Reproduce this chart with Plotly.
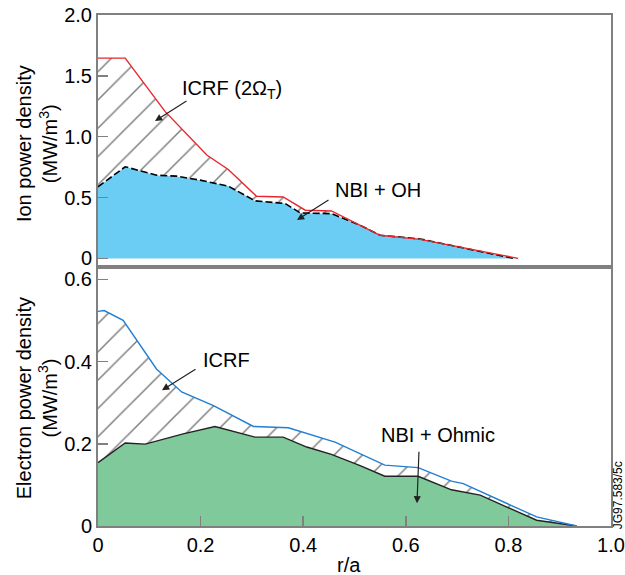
import plotly.graph_objects as go

# ---- Ion power density (top panel) ----
ion_icrf_x = [0.0, 0.053, 0.131, 0.176, 0.212, 0.254, 0.309, 0.361, 0.404, 0.455, 0.511, 0.550, 0.628, 0.819]
ion_icrf_y = [1.646, 1.646, 1.206, 1.006, 0.849, 0.731, 0.511, 0.505, 0.396, 0.390, 0.272, 0.190, 0.156, 0.0]
ion_nbi_x = [0.0, 0.053, 0.114, 0.153, 0.199, 0.254, 0.306, 0.365, 0.394, 0.455, 0.511, 0.550, 0.628, 0.810]
ion_nbi_y = [0.588, 0.753, 0.684, 0.676, 0.643, 0.594, 0.473, 0.451, 0.374, 0.368, 0.272, 0.190, 0.160, 0.0]

# ---- Electron power density (bottom panel) ----
el_icrf_x = [0.0, 0.012, 0.049, 0.101, 0.114, 0.163, 0.225, 0.303, 0.371, 0.462, 0.511, 0.559, 0.624, 0.689, 0.712, 0.855, 0.933]
el_icrf_y = [0.522, 0.524, 0.500, 0.403, 0.382, 0.326, 0.293, 0.242, 0.239, 0.204, 0.176, 0.148, 0.142, 0.109, 0.103, 0.022, 0.0]
el_nbi_x = [0.0, 0.053, 0.092, 0.166, 0.228, 0.306, 0.361, 0.407, 0.455, 0.511, 0.559, 0.624, 0.689, 0.745, 0.855, 0.933]
el_nbi_y = [0.154, 0.202, 0.199, 0.224, 0.242, 0.216, 0.216, 0.192, 0.174, 0.147, 0.121, 0.121, 0.088, 0.075, 0.014, 0.0]

x_ticks = [0, 0.2, 0.4, 0.6, 0.8, 1.0]
x_ticklabels = ["0", "0.2", "0.4", "0.6", "0.8", "1.0"]
ion_ticks = [0, 0.5, 1.0, 1.5, 2.0]
ion_ticklabels = ["0", "0.5", "1.0", "1.5", "2.0"]
el_ticks = [0, 0.2, 0.4, 0.6]
el_ticklabels = ["0", "0.2", "0.4", "0.6"]

FONT = "Liberation Sans, Arial, sans-serif"
AX = "#808080"
hatch = dict(shape="/", fgcolor="#000000", bgcolor="white", size=20, solidity=0.075)

fig = go.Figure()

# top panel
fig.add_trace(go.Scatter(x=ion_nbi_x, y=ion_nbi_y, mode="lines", fill="tozeroy",
                         fillcolor="#6CCDF4", line=dict(color="black", width=1.6, dash="7px,3px"),
                         xaxis="x2", yaxis="y2", showlegend=False, hoverinfo="skip"))
fig.add_trace(go.Scatter(x=ion_icrf_x, y=ion_icrf_y, mode="lines", fill="tonexty",
                         fillpattern=hatch, fillcolor="white",
                         line=dict(color="#E8262C", width=1.4),
                         xaxis="x2", yaxis="y2", showlegend=False, hoverinfo="skip"))

# bottom panel
fig.add_trace(go.Scatter(x=el_nbi_x, y=el_nbi_y, mode="lines", fill="tozeroy",
                         fillcolor="#80C99B", line=dict(color="#222222", width=1.4),
                         xaxis="x", yaxis="y", showlegend=False, hoverinfo="skip"))
fig.add_trace(go.Scatter(x=el_icrf_x, y=el_icrf_y, mode="lines", fill="tonexty",
                         fillpattern=hatch, fillcolor="white",
                         line=dict(color="#1F7FD3", width=1.4),
                         xaxis="x", yaxis="y", showlegend=False, hoverinfo="skip"))

split = 0.507
tickfont = dict(family=FONT, size=20, color="black")
common = dict(showgrid=False, zeroline=False, automargin=False,
              showline=True, linecolor=AX, linewidth=2, mirror=True)

fig.update_layout(
    width=625, height=575,
    margin=dict(l=98, r=14, t=15, b=49),
    paper_bgcolor="white", plot_bgcolor="white",
    font=dict(family=FONT, size=20, color="black"),
    xaxis=dict(domain=[0, 1], range=[0, 1], tickvals=x_ticks, ticktext=x_ticklabels,
               ticks="inside", ticklen=10, tickcolor=AX, tickwidth=1.5,
               tickfont=tickfont, anchor="y", **common),
    yaxis=dict(domain=[0, split], range=[0, 0.63], tickvals=el_ticks, ticktext=el_ticklabels,
               ticks="inside", ticklen=10, tickcolor=AX, tickwidth=1.5,
               tickfont=tickfont, anchor="x", **common),
    xaxis2=dict(domain=[0, 1], range=[0, 1], showticklabels=False, ticks="",
                anchor="y2", **common),
    yaxis2=dict(domain=[split, 1], range=[-0.07, 2.0], tickvals=ion_ticks, ticktext=ion_ticklabels,
                ticks="inside", ticklen=10, tickcolor=AX, tickwidth=1.5,
                tickfont=tickfont, anchor="x2", **common),
)

ann_font = dict(family=FONT, size=20, color="black")
arrow = dict(showarrow=True, arrowhead=2, arrowsize=1.2, arrowwidth=1.2, arrowcolor="#222222")

def px_x(p):
    return (p - 98) / 513.0

def px_y(p):
    return (525.7 - p) / 510.7

annots = [
    dict(text="ICRF (2Ω<sub>T</sub>)", x=px_x(180), y=px_y(89), xanchor="left", yanchor="middle"),
    dict(text="NBI + OH", x=px_x(378), y=px_y(190), xanchor="center", yanchor="middle"),
    dict(text="ICRF", x=px_x(226), y=px_y(360), xanchor="center", yanchor="middle"),
    dict(text="NBI + Ohmic", x=px_x(438), y=px_y(435), xanchor="center", yanchor="middle"),
]
for a in annots:
    fig.add_annotation(xref="paper", yref="paper", showarrow=False, font=ann_font, **a)

arrows = [
    ((188, 100), (155, 121)),
    ((330, 199), (297, 220)),
    ((197, 368), (162, 390)),
    ((419, 450), (417, 503)),
]
for (tx, ty), (hx, hy) in arrows:
    fig.add_annotation(xref="paper", yref="paper", x=px_x(hx), y=px_y(hy),
                       ax=tx - hx, ay=ty - hy, axref="pixel", ayref="pixel",
                       text="", **arrow)

# axis titles
fig.add_annotation(xref="paper", yref="paper", x=px_x(37), y=px_y(144),
                   text="Ion power density<br>(MW/m<sup>3</sup>)", textangle=-90,
                   showarrow=False, font=ann_font, xanchor="center", yanchor="middle")
fig.add_annotation(xref="paper", yref="paper", x=px_x(37), y=px_y(398),
                   text="Electron power density<br>(MW/m<sup>3</sup>)", textangle=-90,
                   showarrow=False, font=ann_font, xanchor="center", yanchor="middle")
fig.add_annotation(xref="paper", yref="paper", x=px_x(349), y=px_y(565),
                   text="r/a", showarrow=False, font=ann_font, xanchor="center", yanchor="middle")
fig.add_annotation(xref="paper", yref="paper", x=px_x(618), y=px_y(495),
                   text="JG97.583/5c", textangle=-90, showarrow=False,
                   font=dict(family=FONT, size=12, color="black"), xanchor="center", yanchor="middle")

fig.write_html("out.html", config={"displayModeBar": False, "staticPlot": True},
               post_script="document.body.style.margin='0px';document.documentElement.style.overflow='hidden';")
